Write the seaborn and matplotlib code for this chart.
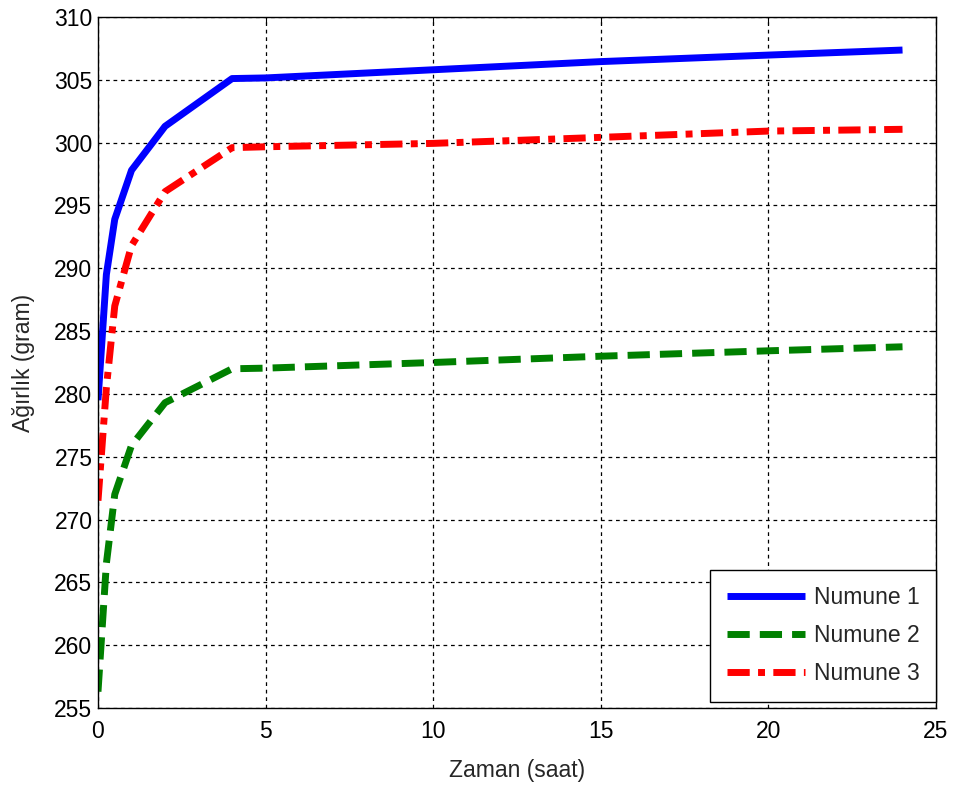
import numpy as np
import pandas as pd
import matplotlib
matplotlib.use("Agg")
import matplotlib.pyplot as plt
import seaborn as sns

# Measurement times (hours) and sample weights (grams)
zaman = [0, 0.25, 0.5, 1, 2, 4, 5, 10, 15, 20, 24]
numune_1 = [279.5, 289.5, 293.9, 297.8, 301.3, 305.1, 305.15, 305.8, 306.45, 306.97, 307.37]
numune_2 = [256.3, 266.5, 272.0, 275.9, 279.3, 282.0, 282.05, 282.5, 283.0, 283.43, 283.75]
numune_3 = [271.5, 280.5, 287.0, 291.8, 296.1, 299.6, 299.67, 299.94, 300.42, 300.92, 301.06]
seri_adlari = ["Numune 1", "Numune 2", "Numune 3"]

x_ticks = [0, 5, 10, 15, 20, 25]
y_ticks = list(range(255, 311, 5))

df = pd.DataFrame({
    "Zaman": zaman * 3,
    "Agirlik": numune_1 + numune_2 + numune_3,
    "Numune": [seri_adlari[0]] * len(zaman) + [seri_adlari[1]] * len(zaman) + [seri_adlari[2]] * len(zaman),
})

sns.set_style("white")
plt.rcParams["font.family"] = ["Liberation Sans", "DejaVu Sans"]
plt.rcParams["lines.solid_capstyle"] = "butt"
plt.rcParams["lines.dash_capstyle"] = "butt"
FS = 16.5

fig = plt.figure(figsize=(9.57, 7.87), dpi=100)
ax = fig.add_axes([0.1024, 0.1004, 0.8757, 0.878])

palette = {"Numune 1": (0, 0, 1), "Numune 2": (0, 0.5, 0), "Numune 3": (1, 0, 0)}
dashes = {"Numune 1": "", "Numune 2": (3.2, 1.45), "Numune 3": (3.2, 1.2, 1.0, 1.2)}

sns.lineplot(data=df, x="Zaman", y="Agirlik", hue="Numune", style="Numune",
             palette=palette, dashes=dashes, linewidth=5, ax=ax,
             estimator=None, sort=False)

ax.set_xlim(0, 25)
ax.set_ylim(255, 310)
ax.set_xticks(x_ticks)
ax.set_yticks(y_ticks)
ax.tick_params(direction="in", length=5, width=0.8, labelsize=FS, colors="black",
               top=True, right=True)
ax.tick_params(axis="x", pad=9)
ax.tick_params(axis="y", pad=4)
for s in ax.spines.values():
    s.set_color("black")
    s.set_linewidth(1.0)

ax.grid(True, color="black", linestyle=(0, (3, 3)), linewidth=0.9)
ax.set_axisbelow(True)

ax.set_xlabel("Zaman (saat)", fontsize=FS, labelpad=11)
ax.set_ylabel("Ağırlık (gram)", fontsize=FS, labelpad=14)

leg = ax.legend(loc="lower right", bbox_to_anchor=(1.0, 6 / 691), fontsize=FS,
                frameon=True, fancybox=False, edgecolor="black", framealpha=1,
                handlelength=3.4, handletextpad=0.4, borderaxespad=0.0,
                labelspacing=0.66, borderpad=0.72)
leg.get_frame().set_linewidth(1.0)

fig.savefig("out.png", dpi=100, facecolor="white")
